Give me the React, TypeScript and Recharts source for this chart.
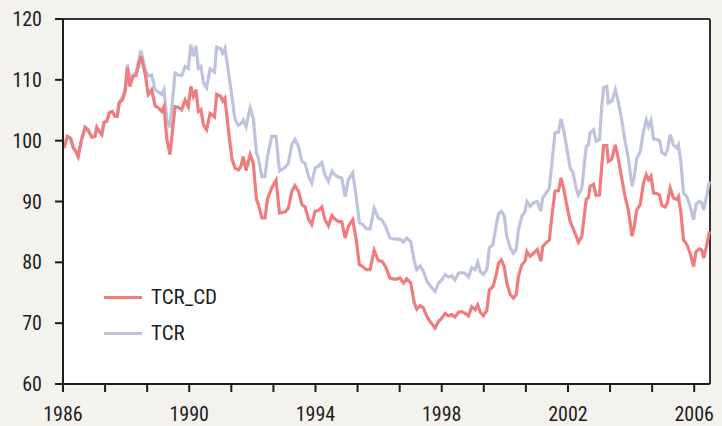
import React from 'react';
import {
  LineChart,
  Line,
  XAxis,
  YAxis,
  CartesianGrid,
  ReferenceLine,
} from 'recharts';

// decimal-year positions of the sampled points
const dates = [
  1986.03, 1986.14, 1986.24, 1986.33, 1986.41, 1986.48, 1986.59, 1986.7, 1986.8, 1986.91,
  1987.01, 1987.07, 1987.15, 1987.23, 1987.3, 1987.39, 1987.47, 1987.56, 1987.65, 1987.72,
  1987.78, 1987.89, 1987.97, 1988.04, 1988.12, 1988.21, 1988.31, 1988.47, 1988.6, 1988.7,
  1988.81, 1988.92, 1989.02, 1989.13, 1989.2, 1989.29, 1989.39, 1989.55, 1989.65, 1989.76,
  1989.87, 1989.97, 1990.05, 1990.13, 1990.21, 1990.29, 1990.37, 1990.45, 1990.55, 1990.66,
  1990.8, 1990.87, 1990.99, 1991.06, 1991.13, 1991.24, 1991.35, 1991.45, 1991.56, 1991.64,
  1991.71, 1991.8, 1991.93, 1992.03, 1992.13, 1992.19, 1992.3, 1992.4, 1992.48, 1992.61,
  1992.75, 1992.86, 1993.04, 1993.14, 1993.25, 1993.35, 1993.46, 1993.57, 1993.67, 1993.78,
  1993.88, 1993.99, 1994.09, 1994.2, 1994.3, 1994.41, 1994.52, 1994.62, 1994.73, 1994.83,
  1994.94, 1995.04, 1995.18, 1995.29, 1995.39, 1995.5, 1995.61, 1995.73, 1995.86, 1995.99,
  1996.1, 1996.22, 1996.36, 1996.52, 1996.68, 1996.79, 1996.89, 1997.02, 1997.13, 1997.21,
  1997.32, 1997.42, 1997.53, 1997.63, 1997.79, 1997.9, 1998.0, 1998.11, 1998.21, 1998.32,
  1998.42, 1998.53, 1998.64, 1998.74, 1998.85, 1998.95, 1999.06, 1999.14, 1999.22, 1999.32,
  1999.43, 1999.51, 1999.62, 1999.72, 1999.8, 1999.89, 1999.98, 2000.06, 2000.17, 2000.27,
  2000.36, 2000.43, 2000.54, 2000.64, 2000.7, 2000.8, 2000.91, 2001.03, 2001.14, 2001.2,
  2001.31, 2001.41, 2001.49, 2001.59, 2001.7, 2001.78, 2001.86, 2001.97, 2002.07, 2002.16,
  2002.26, 2002.33, 2002.44, 2002.51, 2002.58, 2002.65, 2002.7, 2002.81, 2002.89, 2003.0,
  2003.07, 2003.13, 2003.23, 2003.28, 2003.39, 2003.5, 2003.6, 2003.71, 2003.81, 2003.92,
  2004.03, 2004.1, 2004.18, 2004.29, 2004.39, 2004.48, 2004.55, 2004.63, 2004.71, 2004.82,
  2004.9, 2004.98, 2005.08, 2005.15, 2005.24, 2005.34, 2005.45, 2005.5, 2005.58, 2005.66,
  2005.77, 2005.87, 2005.98, 2006.06, 2006.17, 2006.24, 2006.3, 2006.4, 2006.48,
];

const tcrCd = [
  98.8, 100.7, 100.4, 98.8, 98.2, 97.4, 100.2, 102.2, 101.7, 100.6,
  100.7, 102.2, 101.5, 101.0, 103.0, 103.2, 104.6, 104.8, 104.0, 104.0,
  106.2, 106.8, 108.1, 112.0, 108.9, 110.5, 110.7, 113.9, 111.1, 107.6,
  108.4, 105.7, 105.4, 104.8, 105.6, 100.2, 97.7, 105.6, 105.5, 105.1,
  106.7, 105.6, 108.9, 107.3, 108.4, 104.8, 105.1, 102.6, 101.8, 104.5,
  103.9, 107.6, 107.3, 106.5, 107.0, 101.8, 97.1, 95.5, 95.2, 95.8,
  97.4, 95.1, 97.7, 96.3, 90.3, 89.5, 87.3, 87.3, 90.4, 92.2,
  93.5, 88.1, 88.3, 88.9, 91.7, 92.6, 91.7, 89.5, 89.1, 87.1,
  86.2, 88.4, 88.5, 89.1, 87.0, 86.0, 87.7, 87.1, 86.7, 86.7,
  84.0, 85.9, 87.0, 83.7, 79.6, 79.3, 78.8, 78.8, 82.0, 80.3,
  80.2, 79.3, 77.4, 77.2, 77.4, 76.6, 77.3, 76.6, 73.3, 72.3,
  72.9, 72.5, 71.1, 70.3, 69.2, 70.3, 70.8, 71.6, 71.2, 71.4,
  71.0, 71.8, 71.9, 71.6, 71.2, 72.7, 72.2, 73.0, 71.8, 71.2,
  72.1, 75.5, 76.0, 77.8, 79.9, 80.4, 79.3, 76.6, 74.7, 74.1,
  74.7, 77.7, 79.6, 80.2, 81.8, 81.0, 81.5, 82.1, 80.2, 82.6,
  83.2, 83.7, 87.6, 91.7, 91.8, 93.9, 92.2, 89.2, 86.7, 85.6,
  84.3, 83.3, 84.3, 87.3, 90.4, 90.6, 92.5, 92.8, 91.0, 91.1,
  95.8, 99.2, 99.2, 96.6, 97.0, 99.3, 96.9, 93.6, 90.8, 88.4,
  84.3, 85.9, 88.6, 89.5, 93.0, 94.4, 93.6, 94.2, 91.4, 91.3,
  91.1, 89.3, 89.1, 89.8, 92.2, 90.6, 90.3, 90.8, 88.1, 83.7,
  82.9, 81.5, 79.3, 81.8, 82.2, 82.0, 80.7, 82.9, 85.1,
];

const tcr = [
  98.8, 100.7, 100.4, 98.8, 98.2, 97.4, 100.2, 102.2, 101.7, 100.6,
  100.7, 102.2, 101.5, 101.0, 103.0, 103.2, 104.6, 104.8, 104.0, 104.0,
  106.3, 107.2, 108.5, 112.5, 110.3, 110.8, 111.2, 114.8, 111.8, 110.6,
  110.8, 108.4, 108.0, 107.6, 108.4, 103.5, 102.2, 111.1, 110.8, 110.7,
  112.2, 111.9, 115.8, 113.9, 115.6, 111.9, 112.2, 109.5, 108.7, 111.8,
  111.3, 115.4, 115.1, 114.4, 115.2, 111.4, 107.3, 103.5, 102.5, 102.8,
  103.4, 102.3, 105.4, 103.7, 98.0, 97.1, 94.1, 94.1, 97.4, 100.7,
  100.7, 95.0, 95.6, 96.3, 99.3, 100.2, 99.1, 96.6, 96.3, 94.1,
  93.0, 95.5, 95.8, 96.4, 94.4, 93.3, 95.0, 94.4, 94.0, 93.9,
  90.8, 93.6, 94.7, 90.8, 86.5, 86.2, 85.5, 85.5, 88.9, 87.3,
  87.0, 85.9, 84.0, 83.8, 83.8, 83.3, 84.0, 83.4, 80.2, 78.8,
  79.4, 78.5, 76.9, 76.2, 75.2, 76.6, 77.1, 78.0, 77.6, 77.8,
  77.1, 78.2, 78.3, 78.2, 77.6, 79.1, 78.8, 80.0, 78.5, 78.0,
  78.8, 82.4, 82.9, 85.9, 88.0, 88.4, 87.6, 84.3, 82.4, 81.5,
  82.1, 85.4, 87.6, 88.4, 90.0, 89.2, 89.8, 90.0, 88.4, 90.6,
  91.4, 92.2, 96.3, 101.3, 101.4, 103.6, 101.8, 98.5, 95.5, 94.7,
  92.2, 91.1, 92.2, 95.8, 99.1, 99.3, 101.3, 101.8, 99.9, 100.2,
  105.6, 108.7, 108.9, 106.2, 106.5, 108.4, 106.2, 103.2, 99.9, 96.9,
  92.5, 94.1, 97.1, 98.2, 101.5, 103.4, 102.3, 103.3, 100.3, 100.2,
  100.0, 98.0, 97.7, 98.5, 101.0, 99.3, 98.8, 99.3, 96.3, 91.4,
  90.8, 89.2, 87.0, 89.6, 90.0, 89.8, 88.6, 91.1, 93.3,
];

const xTicks = [
  1986, 1987.333, 1988.667, 1990, 1991.333, 1992.667, 1994, 1995.333, 1996.667,
  1998, 1999.333, 2000.667, 2002, 2003.333, 2004.667, 2006,
];
const labeledYears = [1986, 1990, 1994, 1998, 2002, 2006];
const yTicks = [60, 70, 80, 90, 100, 110, 120];

const RED = '#ef7d7d';
const BLUE = '#bfc3dd';
const INK = '#1f1c1c';
const FONT = "'Liberation Sans Narrow', 'Roboto Condensed', Roboto, sans-serif";

const chartData = dates.map((t, i) => ({ t, tcrCd: tcrCd[i], tcr: tcr[i] }));

const legendItems = [
  { name: 'TCR_CD', color: RED },
  { name: 'TCR', color: BLUE },
];

const yearLabel = (v: number) => {
  const r = Math.round(v);
  return labeledYears.includes(r) && Math.abs(v - r) < 0.01 ? String(r) : '';
};

export default function App() {
  return (
    <div
      style={{
        position: 'absolute',
        left: 0,
        top: 0,
        width: 722,
        height: 426,
        background: '#f4f2ed',
      }}
    >
      <LineChart
        width={722}
        height={426}
        data={chartData}
        margin={{ top: 19, right: 12, left: 8, bottom: 12 }}
      >
        <CartesianGrid fill="#ffffff" horizontal={false} vertical={false} />
        <XAxis
          dataKey="t"
          type="number"
          domain={[1986, 2006.5]}
          ticks={xTicks}
          tickFormatter={yearLabel}
          height={30}
          tickSize={8}
          tickMargin={15}
          interval={0}
          axisLine={{ stroke: INK, strokeWidth: 2 }}
          tickLine={{ stroke: INK, strokeWidth: 2 }}
          tick={{ fill: INK, fontSize: 20, fontFamily: FONT }}
        />
        <YAxis
          domain={[60, 120]}
          ticks={yTicks}
          width={55}
          tickSize={8}
          tickMargin={13}
          interval={0}
          axisLine={{ stroke: INK, strokeWidth: 2 }}
          tickLine={{ stroke: INK, strokeWidth: 2 }}
          tick={{ fill: INK, fontSize: 20, fontFamily: FONT }}
        />
        <ReferenceLine y={120} stroke="#333" strokeWidth={2} />
        <ReferenceLine x={2006.5} stroke="#333" strokeWidth={2} />
        <Line
          dataKey="tcr"
          name="TCR"
          stroke={BLUE}
          strokeWidth={3.2}
          dot={false}
          isAnimationActive={false}
        />
        <Line
          dataKey="tcrCd"
          name="TCR_CD"
          stroke={RED}
          strokeWidth={3.2}
          dot={false}
          isAnimationActive={false}
        />
      </LineChart>
      <div
        style={{
          position: 'absolute',
          left: 104,
          top: 279,
          fontFamily: FONT,
          fontSize: 21,
          color: INK,
        }}
      >
        {legendItems.map((item) => (
          <div key={item.name} style={{ display: 'flex', alignItems: 'center', height: 36 }}>
            <span style={{ width: 38, height: 3, background: item.color, marginRight: 9 }} />
            <span>{item.name}</span>
          </div>
        ))}
      </div>
    </div>
  );
}
